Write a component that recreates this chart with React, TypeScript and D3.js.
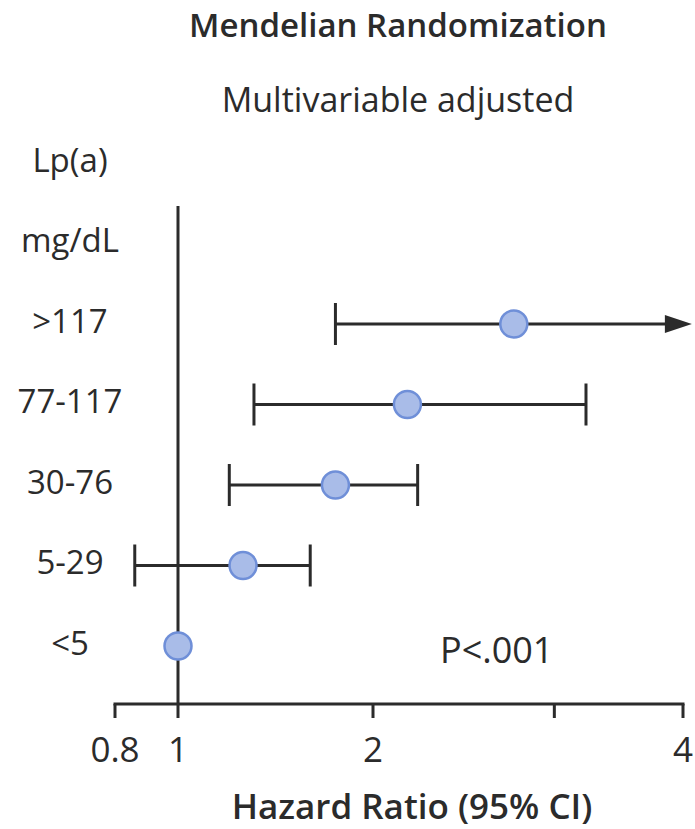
import { useEffect, useRef } from "react";
import * as d3 from "d3";

// ── Data ─────────────────────────────────────────────────────────
const headerRows = ["Lp(a)", "mg/dL"];
const groups = [">117", "77-117", "30-76", "5-29", "<5"];
const hazardRatio = [2.74, 2.16, 1.75, 1.26, 1.0];
const ciLower = [1.75, 1.31, 1.2, 0.858, null];
const ciUpper = [4.08, 3.22, 2.21, 1.6, null];
const ciOpen = [true, false, false, false, false]; // upper bound runs off the axis

const axisBreaks = [0.8, 1, 2, 4];
const tickValues = [0.8, 1, 2, 3, 4];
const tickLabels = ["0.8", "1", "2", "", "4"];

const FONT = "'Open Sans', 'Noto Sans', sans-serif";
const INK = "#2b2b2b";

export default function App() {
  const svgRef = useRef<SVGSVGElement>(null);

  useEffect(() => {
    document.body.style.margin = "0";
    if (!svgRef.current) return;
    const svg = d3.select(svgRef.current);
    svg.selectAll("*").remove();

    const width = 695;
    const height = 829;
    svg.attr("width", width).attr("height", height).style("background", "white").style("display", "block");

    // piecewise log axis (the drawing stretches 2→4 more than 1→2)
    const x = d3.scaleLog().domain(axisBreaks).range([115, 178, 373, 683]);
    const y = d3.scalePoint<string>().domain([...headerRows, ...groups]).range([163, 646]);
    const axisY = 704;

    // ── Titles ────────────────────────────────────────────────
    svg.append("text")
      .attr("x", 398).attr("y", 37)
      .attr("text-anchor", "middle")
      .attr("font-family", FONT).attr("font-size", 33).attr("font-weight", 600)
      .attr("fill", INK)
      .text("Mendelian Randomization");

    svg.append("text")
      .attr("x", 398).attr("y", 112)
      .attr("text-anchor", "middle")
      .attr("font-family", FONT).attr("font-size", 34)
      .attr("fill", INK)
      .text("Multivariable adjusted");

    // ── Row labels ────────────────────────────────────────────
    [...headerRows, ...groups].forEach((label) => {
      svg.append("text")
        .attr("x", 70).attr("y", y(label)! - 4)
        .attr("text-anchor", "middle")
        .attr("dominant-baseline", "central")
        .attr("font-family", FONT).attr("font-size", 33)
        .attr("fill", INK)
        .text(label);
    });

    // ── Reference line at HR = 1 ──────────────────────────────
    svg.append("line")
      .attr("x1", x(1)).attr("x2", x(1))
      .attr("y1", 206).attr("y2", axisY)
      .attr("stroke", INK).attr("stroke-width", 3);

    // ── X axis ────────────────────────────────────────────────
    svg.append("line")
      .attr("x1", x(0.8)).attr("x2", x(4))
      .attr("y1", axisY).attr("y2", axisY)
      .attr("stroke", INK).attr("stroke-width", 3)
      .attr("stroke-linecap", "square");

    tickValues.forEach((t, i) => {
      svg.append("line")
        .attr("x1", x(t)).attr("x2", x(t))
        .attr("y1", axisY).attr("y2", axisY + 14)
        .attr("stroke", INK).attr("stroke-width", 3);
      if (tickLabels[i]) {
        svg.append("text")
          .attr("x", x(t)).attr("y", axisY + 58)
          .attr("text-anchor", "middle")
          .attr("font-family", FONT).attr("font-size", 35)
          .attr("fill", INK)
          .text(tickLabels[i]);
      }
    });

    svg.append("text")
      .attr("x", 412).attr("y", 819)
      .attr("text-anchor", "middle")
      .attr("font-family", FONT).attr("font-size", 35).attr("font-weight", 600)
      .attr("fill", INK)
      .text("Hazard Ratio (95% CI)");

    // ── Confidence intervals ──────────────────────────────────
    groups.forEach((g, i) => {
      const lo = ciLower[i];
      const hi = ciUpper[i];
      if (lo == null || hi == null) return;
      const cy = y(g)!;
      const x1 = x(lo);
      const x2 = x(hi);
      svg.append("line")
        .attr("x1", x1).attr("x2", ciOpen[i] ? x2 - 20 : x2)
        .attr("y1", cy).attr("y2", cy)
        .attr("stroke", INK).attr("stroke-width", 3);
      svg.append("line")
        .attr("x1", x1).attr("x2", x1)
        .attr("y1", cy - 21).attr("y2", cy + 21)
        .attr("stroke", INK).attr("stroke-width", 3);
      if (ciOpen[i]) {
        svg.append("path")
          .attr("d", `M${x2},${cy} L${x2 - 27},${cy - 9} L${x2 - 27},${cy + 9} Z`)
          .attr("fill", INK);
      } else {
        svg.append("line")
          .attr("x1", x2).attr("x2", x2)
          .attr("y1", cy - 21).attr("y2", cy + 21)
          .attr("stroke", INK).attr("stroke-width", 3);
      }
    });

    // ── Point estimates ───────────────────────────────────────
    groups.forEach((g, i) => {
      svg.append("circle")
        .attr("cx", x(hazardRatio[i])).attr("cy", y(g)!)
        .attr("r", 13.5)
        .attr("fill", "#a9bce8")
        .attr("stroke", "#6f8fd8")
        .attr("stroke-width", 2.5);
    });

    // ── P value ───────────────────────────────────────────────
    svg.append("text")
      .attr("x", 440).attr("y", y("<5")! + 3)
      .attr("dominant-baseline", "central")
      .attr("font-family", FONT).attr("font-size", 36)
      .attr("fill", INK)
      .text("P<.001");
  }, []);

  return <svg ref={svgRef} />;
}
